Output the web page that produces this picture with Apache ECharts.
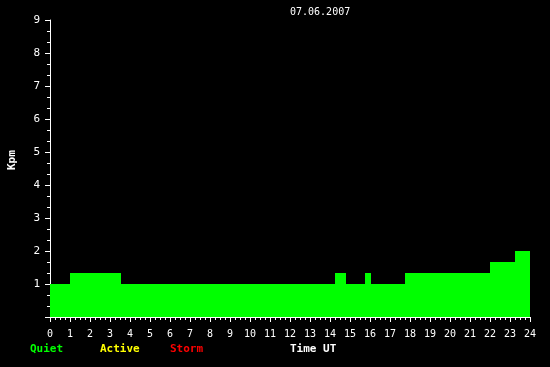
<!DOCTYPE html>
<html>
<head>
<meta charset="utf-8">
<script src="https://cdn.jsdelivr.net/npm/echarts@6/dist/echarts.min.js"></script>
<style>
html,body{margin:0;padding:0;background:#000;}
#chart{width:550px;height:367px;}
</style>
</head>
<body>
<div id="chart"></div>
<script>
// Segment start times (UT hours) and Kpm values; last point closes the day
var times = [0, 1, 3.55, 14.25, 14.8, 15.75, 16.05, 17.75, 22, 23.25, 24];
var kpm   = [1, 1.33, 1, 1.33, 1, 1.33, 1, 1.33, 1.67, 2, 2];
var dateLabel = '07.06.2007';
var legendLabels = ['Quiet', 'Active', 'Storm'];
var legendColors = ['#00ff00', '#ffff00', '#ff0000'];

var data = times.map(function (t, i) { return [t, kpm[i]]; });
var mono = '"DejaVu Sans Mono", "Liberation Mono", monospace';

var chart = echarts.init(document.getElementById('chart'));
var legendX = [30, 100, 170];
var graphics = legendLabels.map(function (s, i) {
  return {
    type: 'text', left: legendX[i], top: 344,
    style: { text: s, fill: legendColors[i], font: 'bold 11px ' + mono }
  };
});
graphics.push({
  type: 'text', left: 290, top: 344,
  style: { text: 'Time UT', fill: '#ffffff', font: 'bold 11px ' + mono }
});
graphics.push({
  type: 'text', left: 290, top: 7,
  style: { text: dateLabel, fill: '#ffffff', font: '10px ' + mono }
});
graphics.push({
  type: 'text', x: 7, y: 170, rotation: Math.PI / 2,
  style: { text: 'Kpm', fill: '#ffffff', font: 'bold 11px ' + mono }
});

chart.setOption({
  animation: false,
  backgroundColor: '#000000',
  grid: { left: 50, right: 20, top: 20, bottom: 50 },
  graphic: graphics,
  xAxis: {
    type: 'value', min: 0, max: 24, interval: 1,
    axisLine: { show: true, lineStyle: { color: '#ffffff', width: 1 } },
    axisTick: { show: true, length: 5, lineStyle: { color: '#ffffff' } },
    minorTick: { show: true, splitNumber: 4, length: 3, lineStyle: { color: '#ffffff' } },
    axisLabel: { color: '#ffffff', margin: 12, fontFamily: mono, fontSize: 10 },
    splitLine: { show: false }
  },
  yAxis: {
    type: 'value', min: 0, max: 9, interval: 1,
    axisLine: { show: true, lineStyle: { color: '#ffffff', width: 1 } },
    axisTick: { show: true, length: 5, lineStyle: { color: '#ffffff' } },
    minorTick: { show: true, splitNumber: 3, length: 3, lineStyle: { color: '#ffffff' } },
    axisLabel: {
      color: '#ffffff', margin: 10, fontFamily: mono, fontSize: 11,
      formatter: function (v) { return v === 0 ? '' : String(v); }
    },
    splitLine: { show: false }
  },
  series: [{
    type: 'line',
    step: 'end',
    data: data,
    symbol: 'none',
    lineStyle: { width: 0, color: '#00ff00' },
    areaStyle: { color: '#00ff00', opacity: 1 },
    z: 1
  }]
});
</script>
</body>
</html>
